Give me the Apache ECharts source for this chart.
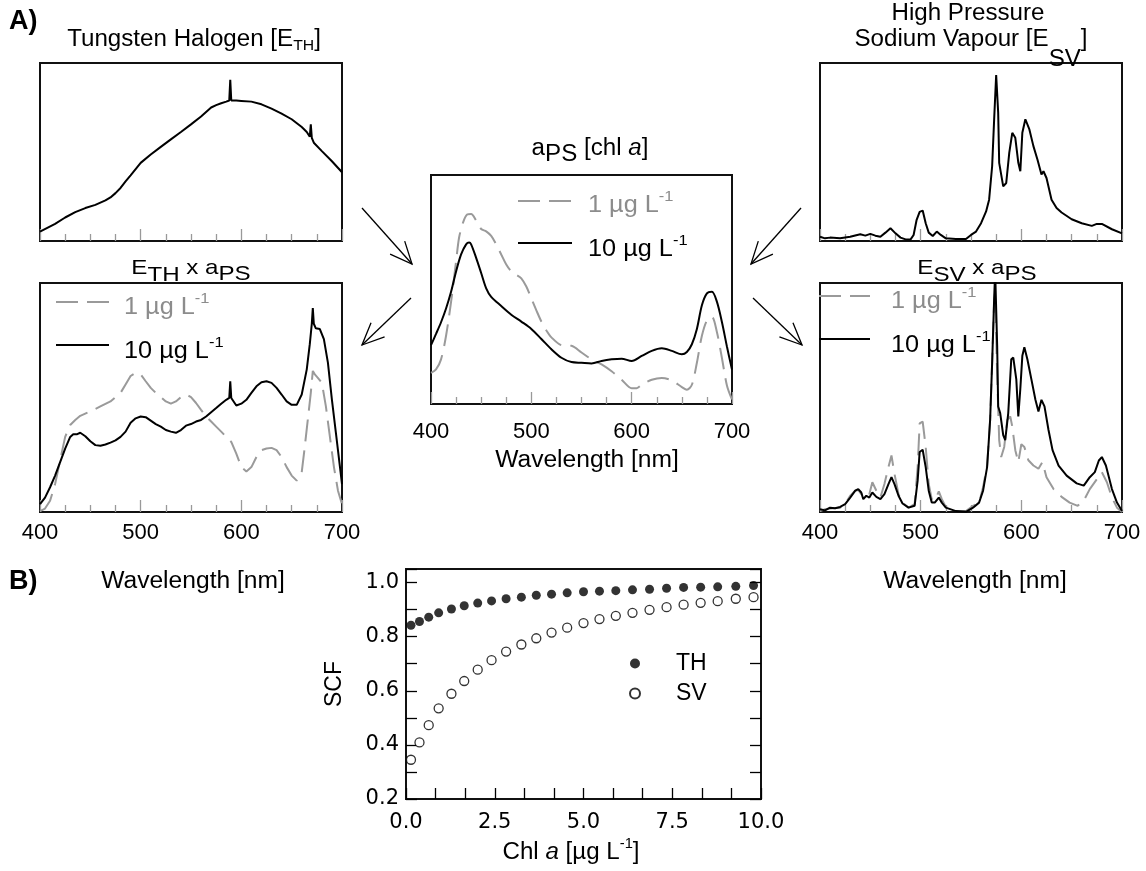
<!DOCTYPE html>
<html>
<head>
<meta charset="utf-8">
<title>Lamp spectra, chl a absorption and SCF</title>
<script src="https://cdn.jsdelivr.net/npm/echarts@6.0.0/dist/echarts.min.js"></script>
<style>
  html, body { margin: 0; padding: 0; background: #fff; }
  #chart { width: 1146px; height: 871px; }
</style>
</head>
<body>
<div id="chart"></div>
<script>
// ---------- data (relative spectral units, 0..1 of panel height) ----------
// Tungsten halogen lamp emission
const thWl = [400,415,425,435,445,455,465,470,475,480,485,490,500,510,520,530,540,550,560,570,575,580,585,588,589,590,595,600,610,620,630,640,650,660,665,668,669,670,672,680,690,700];
const thE  = [0.053,0.096,0.132,0.162,0.185,0.203,0.228,0.245,0.269,0.298,0.335,0.369,0.439,0.486,0.529,0.571,0.612,0.655,0.699,0.75,0.763,0.774,0.783,0.789,0.906,0.789,0.789,0.787,0.783,0.768,0.744,0.716,0.684,0.640,0.612,0.586,0.655,0.580,0.552,0.505,0.448,0.386];

// High pressure sodium vapour lamp emission
const svWl = [400,405,410,420,430,440,445,450,455,460,465,470,475,480,485,490,493,496,499,502,505,508,512,516,520,525,535,545,550,555,560,565,568,571,573,575,577,578,580,582,585,588,591,594,597,599,601,604,608,612,616,620,622,625,630,635,640,650,660,670,675,680,690,700];
const svE  = [0.024,0.015,0.019,0.015,0.024,0.038,0.030,0.040,0.030,0.024,0.047,0.072,0.043,0.019,0.009,0.009,0.034,0.119,0.164,0.171,0.100,0.047,0.028,0.053,0.034,0.015,0.011,0.011,0.034,0.053,0.100,0.166,0.232,0.420,0.684,0.932,0.721,0.439,0.373,0.307,0.326,0.495,0.608,0.580,0.439,0.392,0.608,0.684,0.627,0.533,0.458,0.373,0.392,0.354,0.232,0.185,0.160,0.122,0.100,0.085,0.096,0.096,0.066,0.043];

// Phytoplankton absorption a_PS for 10 and 1 ug/L chl a
const aps10Wl = [400,405,410,415,420,425,430,435,438,440,445,450,455,460,470,480,490,500,510,520,530,540,550,560,570,580,590,600,610,620,630,640,650,655,660,665,670,675,680,685,690,695,700];
const aps10   = [0.257,0.306,0.357,0.417,0.490,0.579,0.653,0.697,0.705,0.697,0.638,0.572,0.505,0.468,0.428,0.390,0.360,0.328,0.284,0.239,0.202,0.183,0.180,0.177,0.188,0.195,0.198,0.188,0.210,0.232,0.243,0.232,0.217,0.227,0.261,0.328,0.431,0.483,0.490,0.446,0.357,0.25,0.15];
const aps1Wl  = [400,405,410,415,420,425,428,432,436,440,445,450,455,460,465,470,475,480,485,490,495,500,505,510,515,520,530,540,550,560,570,580,590,600,605,610,620,630,640,650,655,660,665,670,675,680,685,690,695,700];
const aps1    = [0.136,0.151,0.195,0.298,0.446,0.623,0.727,0.793,0.827,0.830,0.801,0.764,0.754,0.734,0.697,0.653,0.609,0.579,0.564,0.549,0.513,0.461,0.409,0.360,0.321,0.291,0.257,0.254,0.225,0.195,0.173,0.143,0.106,0.069,0.069,0.084,0.106,0.114,0.103,0.074,0.062,0.084,0.180,0.298,0.365,0.380,0.313,0.20,0.08,0.02];

// Tungsten halogen x a_PS
const eth10Wl = [400,405,410,415,420,425,430,433,437,440,445,450,455,460,465,470,475,480,485,490,495,500,505,510,515,520,525,530,535,540,545,550,555,560,565,570,575,580,585,588,589,590,595,600,605,610,615,620,625,630,635,640,645,650,655,660,665,668,670,671,672,674,678,682,686,690,694,698,700];
const eth10   = [0.034,0.063,0.108,0.159,0.218,0.277,0.328,0.340,0.340,0.346,0.331,0.309,0.292,0.289,0.295,0.303,0.313,0.328,0.351,0.390,0.409,0.417,0.414,0.399,0.384,0.373,0.358,0.351,0.346,0.358,0.377,0.384,0.395,0.402,0.417,0.436,0.454,0.473,0.490,0.498,0.571,0.498,0.465,0.473,0.490,0.520,0.549,0.567,0.571,0.564,0.542,0.513,0.483,0.468,0.468,0.513,0.623,0.733,0.822,0.891,0.822,0.802,0.799,0.755,0.652,0.490,0.343,0.196,0.122];
const eth1Wl  = [400,405,410,415,420,425,430,435,440,450,460,470,480,485,490,495,500,505,510,515,520,525,530,535,540,545,550,555,560,565,570,575,580,585,590,595,600,605,610,615,620,625,630,635,640,645,650,655,660,663,666,669,671,673,676,680,684,688,692,696,700];
const eth1    = [0.004,0.015,0.049,0.122,0.225,0.328,0.380,0.402,0.420,0.439,0.461,0.483,0.520,0.557,0.594,0.608,0.601,0.571,0.542,0.520,0.502,0.483,0.473,0.483,0.502,0.513,0.502,0.476,0.446,0.417,0.395,0.373,0.351,0.328,0.306,0.255,0.196,0.177,0.196,0.240,0.270,0.277,0.280,0.270,0.240,0.196,0.159,0.137,0.174,0.284,0.402,0.520,0.616,0.601,0.586,0.564,0.461,0.328,0.196,0.093,0.034];

// Sodium vapour x a_PS
const esv10Wl = [400,405,410,415,420,425,430,435,438,441,443,446,449,452,456,460,464,468,471,474,478,482,488,494,497,499,502,505,508,511,514,518,521,525,535,545,552,558,562,566,569,571,573,574,576,577,579,582,584,587,590,592,595,597,599,601,603,606,610,614,617,620,623,627,631,637,645,655,662,668,673,677,680,684,690,695,700];
const esv10   = [0.012,0.007,0.019,0.016,0.022,0.034,0.063,0.093,0.100,0.085,0.056,0.071,0.063,0.085,0.066,0.056,0.078,0.122,0.152,0.122,0.071,0.037,0.019,0.027,0.137,0.262,0.272,0.196,0.093,0.041,0.041,0.063,0.041,0.019,0.004,0.001,0.019,0.041,0.093,0.196,0.402,0.652,0.932,1.05,0.726,0.461,0.432,0.336,0.314,0.432,0.667,0.674,0.579,0.417,0.538,0.682,0.719,0.667,0.579,0.490,0.439,0.490,0.461,0.358,0.270,0.203,0.159,0.125,0.115,0.152,0.174,0.225,0.240,0.203,0.100,0.041,0.004];
const esv1Wl  = [400,405,410,420,425,430,435,438,441,446,449,452,456,460,464,468,471,474,478,482,488,494,497,499,502,505,508,511,514,518,521,525,535,545,552,558,562,566,569,571,573,574,576,578,580,583,586,589,591,594,597,600,603,607,612,617,621,625,632,640,648,656,662,668,674,680,685,690,695,700];
const esv1    = [0.004,0.012,0.015,0.019,0.037,0.071,0.093,0.096,0.078,0.093,0.078,0.130,0.093,0.063,0.122,0.196,0.247,0.166,0.078,0.041,0.019,0.034,0.196,0.387,0.395,0.284,0.122,0.056,0.049,0.090,0.056,0.022,0.004,0.004,0.027,0.041,0.108,0.203,0.402,0.652,0.918,0.963,0.596,0.314,0.240,0.284,0.402,0.417,0.373,0.270,0.218,0.296,0.284,0.226,0.203,0.189,0.218,0.152,0.100,0.066,0.041,0.027,0.049,0.100,0.137,0.174,0.130,0.063,0.019,0.000];

// Spectral correction factor vs chl a
const chl   = [0.14,0.38,0.64,0.92,1.28,1.64,2.02,2.41,2.82,3.25,3.67,4.10,4.54,5.00,5.45,5.91,6.38,6.86,7.34,7.82,8.30,8.78,9.29,9.79];
const scfTH = [0.842,0.856,0.872,0.888,0.902,0.914,0.924,0.932,0.940,0.946,0.953,0.957,0.962,0.966,0.968,0.970,0.973,0.975,0.979,0.982,0.983,0.984,0.986,0.989];
const scfSV = [0.345,0.409,0.473,0.535,0.589,0.636,0.678,0.713,0.745,0.771,0.794,0.815,0.833,0.850,0.865,0.877,0.888,0.899,0.909,0.918,0.925,0.931,0.940,0.946];

// Axis ranges and tick labels
const wlMin = 400, wlMax = 700, wlStep = 100;
const scfMin = 0.2, scfMax = 1.05, scfStep = 0.2;
const chlMin = 0, chlMax = 10, chlStep = 2.5;
const legendLow = '1 µg L', legendHigh = '10 µg L', legendSup = '-1';

// ---------- helpers ----------
const FONT = "'Liberation Sans', Arial, Helvetica, sans-serif";
const WIDE_FONT = "'DejaVu Sans', 'Liberation Sans', sans-serif";
const BLACK = '#000', GREY = '#9a9a9a', GREY_TEXT = '#8c8c8c';
const zip = (xs, ys) => xs.map((x, i) => [x, ys[i]]);
const measureCtx = document.createElement('canvas').getContext('2d');
const fontStr = p => (p.italic ? 'italic ' : '') + (p.bold ? 'bold ' : '') + p.size + 'px ' + FONT;

// A run of text pieces (for sub/superscripts) laid out left to right
function textRun(pieces, x, y, o) {
  o = o || {};
  let total = 0;
  const widths = pieces.map(p => { measureCtx.font = fontStr(p); const w = measureCtx.measureText(p.t).width; total += w; return w; });
  let cx = o.align === 'left' ? 0 : -total / 2;
  const children = pieces.map((p, i) => {
    const el = {
      type: 'text', x: cx, y: p.dy || 0, silent: true,
      style: { text: p.t, font: fontStr(p), fill: p.color || o.color || BLACK, align: 'left', verticalAlign: 'middle' }
    };
    cx += widths[i];
    return el;
  });
  return { type: 'group', x: x, y: y, scaleX: o.sx || 1, rotation: o.rot || 0, silent: true, children: children };
}

function arrow(x1, y1, x2, y2) {
  const a = Math.atan2(y1 - y2, x1 - x2), L = 24, sp = 0.42;
  return [
    { type: 'line', silent: true, shape: { x1, y1, x2, y2 }, style: { stroke: BLACK, lineWidth: 1.3 } },
    { type: 'polyline', silent: true, shape: { points: [[x2 + L * Math.cos(a + sp), y2 + L * Math.sin(a + sp)], [x2, y2], [x2 + L * Math.cos(a - sp), y2 + L * Math.sin(a - sp)]] },
      style: { stroke: BLACK, fill: null, lineWidth: 1.3 } }
  ];
}

function legendPair(x1, x2, yDash, yLine, tx, tyDash, tyLine) {
  const sup = { size: 15, dy: -9 };
  return [
    { type: 'line', silent: true, shape: { x1, y1: yDash, x2, y2: yDash }, style: { stroke: GREY, lineWidth: 2, lineDash: [22, 9] } },
    { type: 'line', silent: true, shape: { x1, y1: yLine, x2, y2: yLine }, style: { stroke: BLACK, lineWidth: 2 } },
    textRun([{ t: legendLow, size: 23 }, Object.assign({ t: legendSup }, sup)], tx, tyDash, { align: 'left', color: GREY_TEXT, sx: 1.1 }),
    textRun([{ t: legendHigh, size: 23 }, Object.assign({ t: legendSup }, sup)], tx, tyLine, { align: 'left', sx: 1.1 })
  ];
}

// ---------- layout ----------
const grids = [
  { left: 40,  top: 63,  width: 302, height: 178 },   // tungsten halogen lamp
  { left: 820, top: 63,  width: 302, height: 178 },   // sodium vapour lamp
  { left: 431, top: 175, width: 301, height: 229 },   // a_PS
  { left: 40,  top: 283, width: 302, height: 229 },   // E_TH x a_PS
  { left: 820, top: 283, width: 302, height: 229 },   // E_SV x a_PS
  { left: 406, top: 569, width: 355, height: 230 }    // SCF
].map(g => Object.assign({ show: true, borderColor: '#111', borderWidth: 2, backgroundColor: 'transparent', containLabel: false }, g));

function specX(gridIndex, showLabels, margin) {
  return {
    type: 'value', gridIndex, min: wlMin, max: wlMax, interval: wlStep,
    axisLine: { show: false }, splitLine: { show: false },
    axisTick: { show: true, inside: true, length: 12, lineStyle: { color: '#999', width: 1.3 } },
    minorTick: { show: true, splitNumber: 4, length: 7, lineStyle: { color: '#999', width: 1.3 } },
    axisLabel: { show: showLabels, fontSize: 22, fontFamily: FONT, color: BLACK, margin: margin || 10 }
  };
}
const specY = gridIndex => ({ type: 'value', gridIndex, min: 0, max: 1, show: false, splitLine: { show: false } });

function specLine(name, xi, wl, vals, dashed, smooth) {
  return {
    type: 'line', name, xAxisIndex: xi, yAxisIndex: xi, data: zip(wl, vals),
    symbol: 'none', showSymbol: false, smooth: smooth || false, clip: true, silent: true,
    lineStyle: dashed ? { color: GREY, width: 2, type: [22, 9] } : { color: BLACK, width: 2 },
    z: dashed ? 2 : 3
  };
}

const scfTicks = { show: true, inside: true, length: 11, lineStyle: { color: BLACK, width: 1.3 } };

const option = {
  animation: false,
  backgroundColor: '#fff',
  grid: grids,
  xAxis: [
    specX(0, false), specX(1, false), specX(2, true, 17), specX(3, true, 10), specX(4, true, 10),
    {
      type: 'value', gridIndex: 5, min: chlMin, max: chlMax, interval: chlStep,
      axisLine: { show: false }, splitLine: { show: false },
      axisTick: scfTicks, minorTick: Object.assign({ splitNumber: 3 }, scfTicks),
      axisLabel: { fontSize: 21, fontFamily: WIDE_FONT, color: BLACK, margin: 13, formatter: v => v.toFixed(1) }
    }
  ],
  yAxis: [
    specY(0), specY(1), specY(2), specY(3), specY(4),
    {
      type: 'value', gridIndex: 5, min: scfMin, max: scfMax, interval: scfStep,
      axisLine: { show: false }, splitLine: { show: false },
      axisTick: scfTicks, minorTick: Object.assign({ splitNumber: 2 }, scfTicks),
      axisLabel: { fontSize: 21, fontFamily: WIDE_FONT, color: BLACK, margin: 7, showMaxLabel: false, formatter: v => v.toFixed(1) }
    },
    {
      type: 'value', gridIndex: 5, position: 'right', min: scfMin, max: scfMax, interval: scfStep,
      axisLine: { show: false }, splitLine: { show: false },
      axisTick: scfTicks, minorTick: Object.assign({ splitNumber: 2 }, scfTicks),
      axisLabel: { show: false }
    }
  ],
  legend: {
    data: ['TH', 'SV'], left: 624, top: 647, orient: 'vertical', icon: 'circle',
    itemWidth: 10, itemHeight: 10, itemGap: 7, selectedMode: false,
    textStyle: { fontSize: 23, fontFamily: FONT, color: BLACK, padding: [0, 0, 0, 31] }
  },
  series: [
    specLine('E_TH', 0, thWl, thE, false),
    specLine('E_SV', 1, svWl, svE, false),
    specLine(legendLow + legendSup, 2, aps1Wl, aps1, true, 0.3),
    specLine(legendHigh + legendSup, 2, aps10Wl, aps10, false, 0.3),
    specLine(legendLow + legendSup, 3, eth1Wl, eth1, true),
    specLine(legendHigh + legendSup, 3, eth10Wl, eth10, false),
    specLine(legendLow + legendSup, 4, esv1Wl, esv1, true),
    specLine(legendHigh + legendSup, 4, esv10Wl, esv10, false),
    {
      type: 'scatter', name: 'TH', xAxisIndex: 5, yAxisIndex: 5, data: zip(chl, scfTH),
      symbol: 'circle', symbolSize: 9, itemStyle: { color: BLACK }, silent: true
    },
    {
      type: 'scatter', name: 'SV', xAxisIndex: 5, yAxisIndex: 5, data: zip(chl, scfSV),
      symbol: 'circle', symbolSize: 9, itemStyle: { color: '#fff', borderColor: BLACK, borderWidth: 1.3 }, silent: true
    }
  ],
  graphic: {
    elements: [
      // panel letters
      textRun([{ t: 'A)', size: 27, bold: true }], 9, 22, { align: 'left' }),
      textRun([{ t: 'B)', size: 27, bold: true }], 9, 582, { align: 'left' }),
      // panel titles
      textRun([{ t: 'Tungsten Halogen [E', size: 23 }, { t: 'TH', size: 15, dy: 6 }, { t: ']', size: 23 }], 194, 40, { sx: 1.05 }),
      textRun([{ t: 'High Pressure', size: 23 }], 968, 14, { sx: 1.05 }),
      textRun([{ t: 'Sodium Vapour [E', size: 23 }, { t: 'SV', size: 23, dy: 20 }, { t: ']', size: 23 }], 971, 40, { sx: 1.05 }),
      textRun([{ t: 'a', size: 23 }, { t: 'PS', size: 23, dy: 6 }, { t: ' [chl ', size: 23 }, { t: 'a', size: 23, italic: true }, { t: ']', size: 23 }], 590, 149, { sx: 1.05 }),
      textRun([{ t: 'E', size: 21 }, { t: 'TH', size: 21, dy: 7 }, { t: ' x a', size: 21 }, { t: 'PS', size: 21, dy: 6 }], 191, 268, { sx: 1.15 }),
      textRun([{ t: 'E', size: 21 }, { t: 'SV', size: 21, dy: 7 }, { t: ' x a', size: 21 }, { t: 'PS', size: 21, dy: 6 }], 977, 268, { sx: 1.15 }),
      // axis names
      textRun([{ t: 'Wavelength [nm]', size: 23 }], 193, 582, { sx: 1.07 }),
      textRun([{ t: 'Wavelength [nm]', size: 23 }], 975, 582, { sx: 1.07 }),
      textRun([{ t: 'Wavelength [nm]', size: 23 }], 587, 461, { sx: 1.07 }),
      textRun([{ t: 'Chl ', size: 23 }, { t: 'a', size: 23, italic: true }, { t: ' [µg L', size: 23 }, { t: '-1', size: 14, dy: -9 }, { t: ']', size: 23 }], 571, 853, { sx: 1.05 }),
      textRun([{ t: 'SCF', size: 23 }], 335, 684, { rot: Math.PI / 2 }),
      // line legends
      ...legendPair(518, 572, 201, 243, 588, 206, 250),
      ...legendPair(56, 109, 302, 345, 124, 308, 352),
      ...legendPair(819, 870, 296, 339, 891, 302, 346),
      // flow arrows
      ...arrow(362, 208, 412, 264),
      ...arrow(411, 298, 362, 345),
      ...arrow(801, 208, 751, 264),
      ...arrow(753, 298, 802, 345)
    ]
  }
};

const chart = echarts.init(document.getElementById('chart'), null, { renderer: 'canvas', width: 1146, height: 871 });
chart.setOption(option);
</script>
</body>
</html>
